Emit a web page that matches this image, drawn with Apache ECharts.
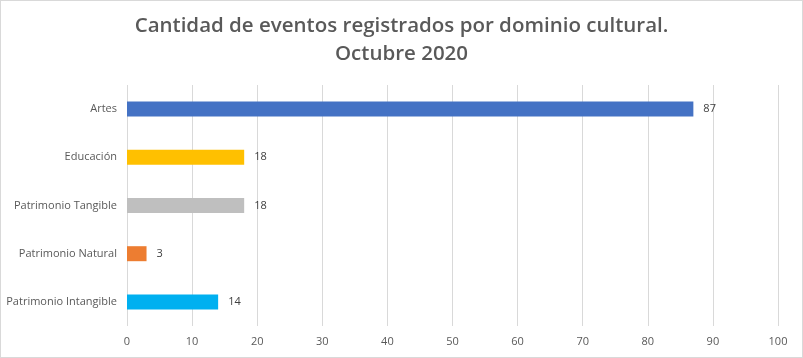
<!DOCTYPE html>
<html><head><meta charset="utf-8">
<script src="https://cdn.jsdelivr.net/npm/echarts@6/dist/echarts.min.js"></script>
<style>html,body{margin:0;padding:0;background:#fff}#c{width:801px;height:356px;border:1px solid #d9d9d9}</style>
</head><body><div id="c"></div>
<script>
const categories = ['Artes','Educación','Patrimonio Tangible','Patrimonio Natural','Patrimonio Intangible'];
const values = [87, 18, 18, 3, 14];
const colors = ['#4472C4','#FFC000','#BFBFBF','#ED7D31','#00B0F0'];
const xTicks = {min:0, max:100, interval:10};

const chart = echarts.init(document.getElementById('c'));
chart.setOption({
  animation:false,
  title:{text:'Cantidad de eventos registrados por dominio cultural.\nOctubre 2020', left:'center', top:6,
    textStyle:{fontFamily:'Open Sans', fontSize:20.5, fontWeight:600, color:'#595959', lineHeight:28}},
  grid:{left:126, right:24, top:84, bottom:31, containLabel:false},
  xAxis:{type:'value', min:xTicks.min, max:xTicks.max, interval:xTicks.interval,
    axisLine:{show:false}, axisTick:{show:false},
    splitLine:{lineStyle:{color:'#d9d9d9'}},
    axisLabel:{color:'#595959', fontSize:11, fontFamily:'Open Sans', margin:10}},
  yAxis:{type:'category', data:categories, inverse:true,
    axisLine:{show:false}, axisTick:{show:false},
    axisLabel:{color:'#595959', fontSize:11, fontFamily:'Open Sans', margin:10}},
  series:[{type:'bar', barWidth:15,
    data: values.map((v,i)=>({value:v, itemStyle:{color:colors[i]}})),
    label:{show:true, position:'right', distance:10, color:'#404040', fontSize:11, fontFamily:'Open Sans'}}]
});
</script></body></html>
